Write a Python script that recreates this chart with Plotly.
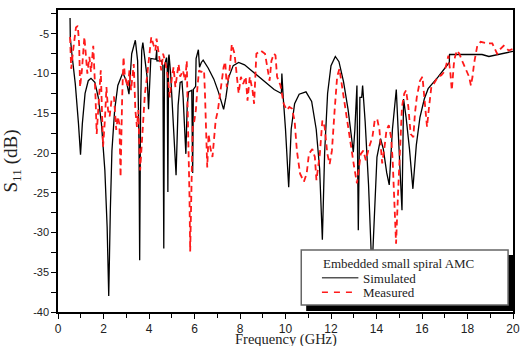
import plotly.graph_objects as go

# ---------------- data ----------------
sim_freq = [0.53, 0.54, 0.61, 0.76, 0.90, 0.99, 1.07, 1.19, 1.33, 1.45, 1.62, 1.77, 1.91, 2.06, 2.16,
            2.23, 2.30, 2.37, 2.49, 2.63, 2.85, 3.00, 3.12, 3.24, 3.40, 3.50, 3.56, 3.59, 3.63, 3.68,
            3.73, 3.82, 3.88, 3.92, 3.98, 4.08, 4.30, 4.31, 4.34, 4.35, 4.55, 4.61, 4.65, 4.68, 4.77,
            4.80, 4.83, 4.86, 4.88, 4.95, 5.05, 5.19, 5.28, 5.37, 5.45, 5.50, 5.62, 5.68, 5.74, 5.88,
            5.92, 5.95, 6.05, 6.07, 6.17, 6.22, 6.30, 6.38, 6.60, 6.85, 7.05, 7.20, 7.28, 7.38, 7.50,
            7.70, 7.94, 8.20, 8.50, 8.80, 9.20, 9.50, 9.82, 9.84, 9.90, 10.00, 10.14, 10.25, 10.40, 10.60,
            10.90, 11.15, 11.35, 11.50, 11.62, 11.72, 11.85, 12.00, 12.19, 12.35, 12.55, 12.75, 12.90, 12.98,
            13.05, 13.14, 13.20, 13.27, 13.35, 13.39, 13.50, 13.65, 13.80, 13.92, 14.02, 14.18, 14.30, 14.45,
            14.56, 14.70, 14.87, 14.95, 15.05, 15.12, 15.19, 15.30, 15.45, 15.60, 15.75, 15.91, 16.10, 16.27,
            16.70, 17.06, 17.20, 17.21, 18.00, 18.64, 18.94, 19.50, 20.00]
sim_s11 = [-3.0, -5.5, -7.5, -11.3, -16.3, -20.2, -16.3, -12.5, -10.9, -10.6, -11.1, -13.0, -16.3, -22.2, -29.3,
           -38.0, -27.2, -19.7, -14.6, -11.5, -9.9, -10.9, -12.6, -7.5, -5.8, -8.4, -18.8, -33.5, -14.6, -7.1,
           -6.1, -8.4, -9.6, -10.5, -14.5, -8.1, -8.2, -7.0, -7.0, -8.4, -8.4, -9.0, -32.0, -9.0, -8.0,
           -9.0, -24.9, -8.0, -7.6, -10.0, -15.0, -22.8, -14.0, -11.1, -11.0, -13.0, -20.1, -14.0, -12.3, -12.1,
           -22.5, -12.0, -11.6, -8.1, -7.0, -9.2, -8.6, -8.3, -9.3, -10.7, -12.3, -13.9, -14.5, -13.0, -10.5,
           -9.0, -8.6, -8.9, -9.6, -10.4, -11.3, -12.0, -12.5, -10.0, -13.0, -17.0, -24.3, -17.0, -13.8, -12.6,
           -12.3, -13.5, -17.0, -22.0, -30.9, -20.0, -12.5, -9.0, -7.85, -8.5, -11.0, -14.5, -18.0, -19.9,
           -17.0, -11.5, -29.7, -13.0, -13.0, -11.5, -16.0, -24.0, -35.0, -26.0, -20.5, -18.2, -19.5, -22.5,
           -24.0, -17.0, -12.0, -17.0, -23.0, -27.2, -13.2, -15.5, -19.5, -24.5, -19.0, -15.5, -13.2, -11.9,
           -10.45, -9.2, -8.6, -7.6, -7.6, -7.6, -7.85, -7.5, -7.2]

meas_freq = [0.53, 0.58, 0.68, 0.79, 0.87, 0.93, 0.97, 1.05, 1.16, 1.22, 1.29, 1.38, 1.45, 1.55, 1.59,
             1.65, 1.70, 1.80, 1.88, 1.91, 1.98, 2.06, 2.13, 2.20, 2.27, 2.35, 2.46, 2.56, 2.63, 2.70,
             2.75, 2.82, 2.88, 2.94, 3.07, 3.14, 3.21, 3.33, 3.40, 3.47, 3.53, 3.61, 3.68, 3.76, 3.82,
             3.91, 4.00, 4.10, 4.19, 4.28, 4.33, 4.44, 4.54, 4.62, 4.73, 4.83, 4.91, 5.01, 5.08, 5.16,
             5.30, 5.37, 5.49, 5.59, 5.66, 5.70, 5.74, 5.78, 5.81, 5.86, 5.92, 5.99, 6.06, 6.13, 6.20,
             6.29, 6.42, 6.46, 6.50, 6.56, 6.62, 6.70, 6.79, 6.87, 6.93, 7.03, 7.11, 7.21, 7.28, 7.35,
             7.42, 7.54, 7.64, 7.76, 7.83, 7.94, 8.04, 8.14, 8.25, 8.33, 8.43, 8.55, 8.62, 8.72, 8.91,
             9.10, 9.20, 9.30, 9.38, 9.49, 9.56, 9.63, 9.78, 9.92, 10.06, 10.17, 10.28, 10.40, 10.50, 10.64,
             10.81, 10.93, 11.03, 11.18, 11.29, 11.36, 11.51, 11.62, 11.72, 11.84, 11.94, 12.04, 12.16, 12.27,
             12.37, 12.47, 12.59, 12.73, 12.88, 13.02, 13.14, 13.31, 13.42, 13.53, 13.67, 13.82, 13.92, 14.03,
             14.13, 14.25, 14.35, 14.44, 14.54, 14.64, 14.71, 14.78, 14.86, 14.94, 15.04, 15.12, 15.22, 15.30,
             15.40, 15.50, 15.62, 15.69, 15.77, 15.91, 16.02, 16.13, 16.22, 16.31, 16.41, 16.56, 16.70, 16.85,
             16.97, 17.06, 17.16, 17.25, 17.31, 17.40, 17.45, 17.54, 17.64, 17.78, 17.93, 18.07, 18.15, 18.22,
             18.29, 18.36, 18.43, 18.58, 18.87, 19.09, 19.23, 19.30, 19.45, 19.59, 19.81, 20.00]
meas_s11 = [-5.4, -9.4, -6.7, -4.2, -4.0, -6.3, -11.7, -9.6, -5.4, -7.9, -10.0, -7.9, -9.8, -6.5, -8.8,
            -13.0, -17.6, -13.8, -9.6, -12.5, -19.2, -15.9, -11.7, -14.6, -15.4, -13.4, -12.9, -17.1, -15.4, -16.4,
            -23.0, -13.0, -7.9, -10.4, -11.7, -9.6, -12.1, -8.8, -14.6, -16.7, -14.6, -22.2, -19.1, -15.5, -12.5,
            -10.5, -8.4, -5.4, -6.3, -7.1, -5.6, -7.5, -9.6, -7.5, -8.8, -10.4, -13.0, -10.4, -9.2, -11.7,
            -8.8, -10.4, -9.6, -10.9, -8.4, -14.6, -18.8, -25.5, -32.4, -26.0, -16.7, -16.0, -14.6, -11.7, -9.6,
            -9.8, -9.6, -12.5, -16.3, -21.8, -17.6, -19.4, -20.5, -18.1, -15.9, -14.6, -13.0, -10.4, -9.2, -8.5,
            -11.7, -9.6, -6.3, -7.5, -9.2, -12.5, -10.4, -11.3, -10.4, -13.4, -10.4, -12.1, -13.8, -7.5, -7.1,
            -7.5, -9.2, -10.9, -8.4, -7.5, -7.7, -10.4, -11.5, -13.8, -14.6, -14.2, -14.4, -15.9, -19.7, -22.6,
            -23.6, -22.6, -20.1, -19.5, -20.5, -23.4, -20.1, -15.9, -16.7, -20.1, -21.4, -19.7, -14.6, -10.4,
            -9.4, -11.3, -14.2, -16.7, -19.7, -21.8, -23.8, -20.1, -19.7, -20.9, -19.3, -18.0, -15.9, -15.7,
            -17.1, -21.3, -19.3, -17.1, -16.5, -18.0, -20.9, -25.9, -31.4, -25.5, -18.0, -14.2, -12.5, -12.1,
            -14.2, -17.6, -18.0, -15.0, -13.0, -10.9, -10.4, -13.8, -16.7, -14.2, -11.7, -11.1, -10.4, -10.2,
            -9.8, -9.0, -7.75, -10.0, -12.1, -8.8, -7.9, -7.1, -7.5, -8.5, -9.4, -10.4, -11.5, -10.4,
            -8.7, -7.5, -6.5, -6.0, -6.2, -6.2, -7.1, -7.5, -6.9, -6.5, -7.1, -6.9]

x_ticks = [0, 2, 4, 6, 8, 10, 12, 14, 16, 18, 20]
y_ticks = [-40, -35, -30, -25, -20, -15, -10, -5]
x_title = "Frequency (GHz)"
y_title = "S<sub>11</sub> (dB)"
legend_title = "Embedded small spiral AMC"
series_names = ["Simulated", "Measured"]

# ---------------- figure ----------------
fig = go.Figure()
fig.add_trace(go.Scatter(x=sim_freq, y=sim_s11, mode="lines", name=series_names[0],
                         line=dict(color="black", width=1.3), showlegend=False))
fig.add_trace(go.Scatter(x=meas_freq, y=meas_s11, mode="lines", name=series_names[1],
                         line=dict(color="#ff1a1a", width=1.8, dash="6px,4px"), showlegend=False))

# plot area: px 58..520 horizontally, 10..312 vertically
def px(xp):
    return (xp - 58) / 462.0

def py(yp):
    return (312 - yp) / 302.0

shapes = [
    # legend shadow
    dict(type="rect", xref="paper", yref="paper", x0=px(310), x1=px(521), y0=py(311), y1=py(255),
         fillcolor="black", line=dict(width=0), layer="above"),
    # legend box
    dict(type="rect", xref="paper", yref="paper", x0=px(305), x1=px(515), y0=py(305), y1=py(250),
         fillcolor="white", line=dict(color="#666666", width=1.5), layer="above"),
    # legend samples
    dict(type="line", xref="paper", yref="paper", x0=px(326), x1=px(363), y0=py(277.7), y1=py(277.7),
         line=dict(color="#555555", width=1.5), layer="above"),
    dict(type="line", xref="paper", yref="paper", x0=px(326), x1=px(359), y0=py(292.3), y1=py(292.3),
         line=dict(color="#ff1a1a", width=1.5, dash="6px,6px"), layer="above"),
]

serif = "Liberation Serif, Times New Roman, serif"
annotations = [
    dict(text=legend_title, xref="paper", yref="paper", x=px(325), y=py(263.5), xanchor="left",
         yanchor="middle", showarrow=False, font=dict(family=serif, size=13, color="#222")),
    dict(text=series_names[0], xref="paper", yref="paper", x=px(366), y=py(278), xanchor="left",
         yanchor="middle", showarrow=False, font=dict(family=serif, size=13, color="#222")),
    dict(text=series_names[1], xref="paper", yref="paper", x=px(366), y=py(292.5), xanchor="left",
         yanchor="middle", showarrow=False, font=dict(family=serif, size=13, color="#222")),
    # x-axis title
    dict(text=x_title, xref="paper", yref="paper", x=0.5, y=py(339.5), xanchor="center",
         yanchor="middle", showarrow=False, font=dict(family=serif, size=14.5, color="#222")),
]

fig.update_layout(
    width=528, height=346,
    margin=dict(l=58, r=8, t=10, b=34),
    paper_bgcolor="white", plot_bgcolor="white",
    showlegend=False,
    shapes=shapes, annotations=annotations,
    xaxis=dict(range=[0, 20], tickvals=x_ticks, ticktext=[str(v) for v in x_ticks],
               showgrid=False, zeroline=False, showline=True, linecolor="black", linewidth=1.5,
               mirror=True, ticks="outside", ticklen=5, tickwidth=1.2, tickcolor="black",
               minor=dict(dtick=1, ticks="outside", ticklen=4, tickwidth=1.2, tickcolor="black", showgrid=False),
               tickfont=dict(family="Liberation Sans, Arial, sans-serif", size=12, color="#222")),
    yaxis=dict(range=[-40, -2], tickvals=y_ticks, ticktext=[str(v) for v in y_ticks],
               showgrid=False, zeroline=False, showline=True, linecolor="black", linewidth=1.5,
               mirror=True, ticks="outside", ticklen=5, tickwidth=1.2, tickcolor="black",
               minor=dict(dtick=2.5, ticks="outside", ticklen=5, tickwidth=1.2, tickcolor="black", showgrid=False),
               tickfont=dict(family="Liberation Sans, Arial, sans-serif", size=11, color="#222"),
               title=dict(text=y_title, standoff=10,
                          font=dict(family=serif, size=19, color="#222"))),
)

fig.write_html("out.html", config={"displayModeBar": False},
               post_script="document.body.style.margin='0';document.body.style.overflow='hidden';")
